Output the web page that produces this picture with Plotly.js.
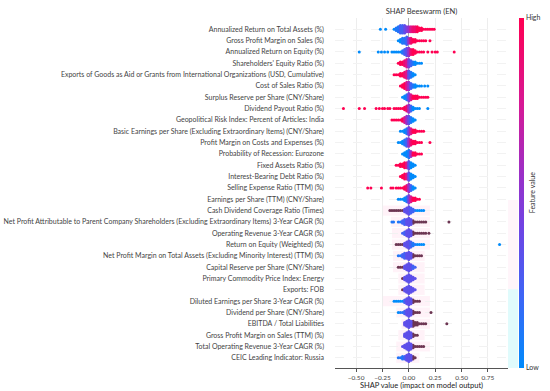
<!DOCTYPE html>
<html><head><meta charset="utf-8">
<script src="https://cdn.plot.ly/plotly-3.0.1.min.js"></script>
<style>html,body{margin:0;padding:0;background:#fff}#chart{width:550px;height:391px}</style>
</head><body><div id="chart"></div>
<script>
const features = [
"Annualized Return on Total Assets (%)",
"Gross Profit Margin on Sales (%)",
"Annualized Return on Equity (%)",
"Shareholders' Equity Ratio (%)",
"Exports of Goods as Aid or Grants from International Organizations (USD, Cumulative)",
"Cost of Sales Ratio (%)",
"Surplus Reserve per Share (CNY/Share)",
"Dividend Payout Ratio (%)",
"Geopolitical Risk Index: Percent of Articles: India",
"Basic Earnings per Share (Excluding Extraordinary Items) (CNY/Share)",
"Profit Margin on Costs and Expenses (%)",
"Probability of Recession: Eurozone",
"Fixed Assets Ratio (%)",
"Interest-Bearing Debt Ratio (%)",
"Selling Expense Ratio (TTM) (%)",
"Earnings per Share (TTM) (CNY/Share)",
"Cash Dividend Coverage Ratio (Times)",
"Net Profit Attributable to Parent Company Shareholders (Excluding Extraordinary Items) 3-Year CAGR (%)",
"Operating Revenue 3-Year CAGR (%)",
"Return on Equity (Weighted) (%)",
"Net Profit Margin on Total Assets (Excluding Minority Interest) (TTM) (%)",
"Capital Reserve per Share (CNY/Share)",
"Primary Commodity Price Index: Energy",
"Exports: FOB",
"Diluted Earnings per Share 3-Year CAGR (%)",
"Dividend per Share (CNY/Share)",
"EBITDA / Total Liabilities",
"Gross Profit Margin on Sales (TTM) (%)",
"Total Operating Revenue 3-Year CAGR (%)",
"CEIC Leading Indicator: Russia"
];

// SHAP value bins for the dense part of each swarm
const binShap = [-0.20,-0.18,-0.16,-0.14,-0.12,-0.10,-0.08,-0.06,-0.04,-0.02,0.00,0.02,0.04,0.06,0.08,0.10,0.12,0.14,0.16,0.18,0.20];

// swarm half-height (stacked dots) per bin, one row per feature
const coreHeight = [
[0,0,0,1,2,3,4,4,4,3,3,3,3,3,3,2,2,1,1,1,1],
[0,0,0,0,0,1,2,3,3,4,3,3,2,2,1,1,1,1,1,0,0],
[1,0,1,1,1,1,1,2,3,4,4,3,3,2,1,1,1,1,0,1,0],
[0,0,0,0,0,1,2,2,3,4,4,3,2,2,1,1,1,0,0,0,0],
[0,0,0,1,1,1,2,2,3,4,4,3,2,1,0,0,0,0,0,0,0],
[0,0,0,0,0,0,1,2,3,4,4,3,2,2,1,1,1,0,0,0,0],
[0,0,0,0,0,0,0,1,2,3,4,3,2,2,2,1,1,1,1,1,0],
[1,1,0,1,1,1,1,1,2,3,4,3,2,1,1,1,0,0,0,0,0],
[0,0,1,1,1,1,1,2,3,4,4,3,2,1,0,0,0,0,0,0,0],
[0,0,0,0,0,0,1,1,2,3,4,3,2,2,1,1,1,1,0,0,0],
[0,0,0,0,0,1,1,2,3,4,4,3,2,2,1,1,1,0,0,0,0],
[0,0,0,0,0,0,0,1,2,3,4,3,2,2,1,1,1,0,0,0,0],
[0,0,0,0,1,1,2,2,3,3,4,3,2,1,0,0,0,0,0,0,0],
[0,0,0,0,0,0,1,2,3,3,4,3,2,1,0,0,0,0,0,0,0],
[0,0,0,0,1,1,1,1,2,3,4,3,2,1,0,0,0,0,0,0,0],
[0,0,0,0,0,1,1,1,2,3,4,3,2,2,1,1,0,0,0,0,0],
[0,1,1,1,1,1,1,1,2,3,4,3,2,1,1,0,0,0,0,0,0],
[0,0,0,0,0,1,1,2,3,3,4,3,2,1,1,1,1,0,0,0,0],
[0,0,0,0,0,0,0,1,2,3,4,3,2,1,1,1,1,1,1,0,0],
[0,0,0,0,0,1,1,1,2,3,4,3,2,1,1,1,1,1,0,0,0],
[0,0,0,0,0,1,1,2,3,3,4,3,2,1,1,1,0,0,0,0,0],
[0,0,0,0,0,1,1,1,2,3,4,3,2,1,0,0,0,0,0,0,0],
[0,0,0,0,0,0,0,1,2,3,4,3,2,1,0,0,0,0,0,0,0],
[0,0,0,0,0,0,0,1,2,3,4,3,2,1,0,0,0,0,0,0,0],
[0,0,0,0,1,1,1,1,2,3,4,3,2,1,1,1,0,0,0,0,0],
[0,0,0,0,0,0,1,1,2,3,4,3,2,1,1,1,0,0,0,0,0],
[0,0,0,0,0,0,0,0,2,3,4,3,3,2,2,1,1,1,1,0,0],
[0,0,0,0,0,0,0,0,2,3,4,3,2,1,1,0,0,0,0,0,0],
[0,0,0,0,0,0,0,1,2,3,4,3,2,1,1,1,1,1,0,0,0],
[0,0,0,0,0,1,1,2,2,3,4,3,2,1,0,0,0,0,0,0,0]
];

// feature value per bin: 0 = low ... 9 = high, -1 = missing
const coreColor = [
[0,0,0,0,1,1,2,2,3,4,5,7,8,8,9,9,9,9,9,9,9],
[0,0,0,0,0,0,0,1,1,2,5,8,9,9,9,9,9,9,9,9,9],
[0,0,0,0,0,0,0,1,2,3,5,8,9,9,9,9,9,9,9,9,9],
[9,9,9,9,9,9,9,9,8,7,4,2,1,0,0,0,0,0,0,0,0],
[9,9,9,9,9,9,9,9,8,7,3,1,0,0,0,0,0,0,0,0,0],
[9,9,9,9,9,9,9,9,9,7,5,2,1,0,0,0,0,0,0,0,0],
[0,0,0,0,0,0,0,0,0,1,4,7,9,9,9,9,9,9,9,9,9],
[9,9,9,9,9,9,9,9,9,8,5,2,0,0,0,0,0,0,0,0,0],
[9,9,9,9,9,9,9,9,7,5,3,1,0,0,0,0,0,0,0,0,0],
[0,0,0,0,0,0,0,0,0,1,4,7,9,9,9,9,9,9,9,9,9],
[0,0,0,0,0,0,0,0,1,2,5,8,9,9,9,9,9,9,9,9,9],
[0,0,0,0,0,0,0,0,0,0,1,5,9,9,9,9,9,9,9,9,9],
[9,9,9,9,9,9,9,9,9,7,3,0,0,0,0,0,0,0,0,0,0],
[9,9,9,9,9,9,9,9,9,7,3,0,0,0,0,0,0,0,0,0,0],
[9,9,9,9,9,9,9,9,9,8,5,2,0,0,0,0,0,0,0,0,0],
[0,0,0,0,0,0,0,0,0,1,4,7,9,9,9,9,9,9,9,9,9],
[-1,-1,-1,-1,-1,-1,-1,-1,3,3,3,2,2,1,0,0,0,0,0,0,0],
[1,1,1,1,1,1,1,2,2,3,3,3,-1,-1,-1,-1,-1,-1,-1,-1,-1],
[2,2,2,2,2,2,2,2,2,3,3,3,-1,-1,-1,-1,-1,-1,-1,-1,-1],
[-1,-1,-1,-1,-1,-1,-1,-1,3,3,3,2,1,1,0,0,0,0,0,0,0],
[1,1,1,1,1,1,1,2,2,3,3,3,-1,-1,-1,-1,-1,-1,-1,-1,-1],
[-1,-1,-1,-1,-1,-1,-1,-1,3,3,3,3,2,2,2,2,2,2,2,2,2],
[-1,-1,-1,-1,-1,-1,-1,-1,3,3,3,3,3,3,3,3,3,3,3,3,3],
[-1,-1,-1,-1,-1,-1,-1,-1,3,3,3,3,3,3,3,3,3,3,3,3,3],
[0,0,0,0,0,0,0,0,2,3,3,3,-1,-1,-1,-1,-1,-1,-1,-1,-1],
[1,1,1,1,1,1,1,1,2,3,3,3,-1,-1,-1,-1,-1,-1,-1,-1,-1],
[3,3,3,3,3,3,3,3,3,3,3,3,-1,-1,-1,-1,-1,-1,-1,-1,-1],
[3,3,3,3,3,3,3,3,3,3,3,3,-1,-1,-1,-1,-1,-1,-1,-1,-1],
[3,3,3,3,3,3,3,3,3,3,3,3,-1,-1,-1,-1,-1,-1,-1,-1,-1],
[0,0,0,0,0,1,1,1,2,3,3,3,-1,-1,-1,-1,-1,-1,-1,-1,-1]
];

// isolated points outside the dense part
const outlierShap = [
[-0.27,-0.22,0.22,0.24],
[0.20],
[-0.47,-0.29,-0.26,-0.23,0.22,0.25,0.27,0.43],
[],
[],
[0.15,0.18],
[],
[-0.62,-0.47,-0.42,-0.31,-0.28,-0.25,-0.23,0.18],
[],
[],
[0.20],
[],
[],
[],
[-0.39,-0.36,-0.26,-0.17,-0.15],
[],
[0.10,0.12,0.14],
[-0.16,-0.145,0.14,0.16,0.38],
[0.19],
[-0.12,0.86],
[0.12],
[],
[],
[],
[-0.14],
[-0.10,0.21],
[0.36],
[],
[],
[]
];
const outlierColor = [
[0,0,9,9],
[9],
[0,0,0,0,9,9,9,9],
[],
[],
[0,0],
[],
[9,9,9,9,9,9,9,0],
[],
[],
[9],
[],
[],
[],
[9,9,9,9,9],
[],
[0,0,0],
[1,1,-1,-1,-1],
[-1],
[-1,0],
[-1],
[],
[],
[],
[0],
[0,-1],
[-1],
[],
[],
[]
];

// faint background bands behind the lower rows (SHAP range)
const bandRows = [16,17,18,19,20,21,22,23,24,25,26,27,28,29];
const bandLo = [-0.25,-0.17,-0.16,-0.16,-0.15,-0.15,-0.10,-0.10,-0.25,-0.12,-0.07,-0.10,-0.12,-0.12];
const bandHi = [0.20,0.20,0.20,0.20,0.15,0.15,0.15,0.15,0.20,0.20,0.20,0.15,0.20,0.10];

const xTickVals = [-0.50,-0.25,0.00,0.25,0.50,0.75];

const colorScale = [
  [0.0,'#008bfb'],[0.2,'#3c66f6'],[0.4,'#6f44e4'],[0.55,'#9a30c8'],
  [0.75,'#d61996'],[1.0,'#ff0052']
];
const missingColor = '#6c3552';

const dy = 0.11;
const cx = [], cyv = [], cc = [];
const mx = [], my = [];
features.forEach((f, r) => {
  coreHeight[r].forEach((h, i) => {
    for (let k = -(h - 1); k <= h - 1; k++) {
      if (coreColor[r][i] < 0) { mx.push(binShap[i]); my.push(r + k * dy); }
      else { cx.push(binShap[i]); cyv.push(r + k * dy); cc.push(coreColor[r][i]); }
    }
  });
  outlierShap[r].forEach((v, j) => {
    if (outlierColor[r][j] < 0) { mx.push(v); my.push(r); }
    else { cx.push(v); cyv.push(r); cc.push(outlierColor[r][j]); }
  });
});

const traces = [
  {type:'scatter', mode:'markers', x: mx, y: my, hoverinfo:'skip', showlegend:false,
   marker:{size:3, color: missingColor, line:{width:0}}},
  {type:'scatter', mode:'markers', x: cx, y: cyv, hoverinfo:'skip', showlegend:false,
   marker:{size:3, color: cc, cmin:0, cmax:9, colorscale: colorScale, line:{width:0},
     showscale:true,
     colorbar:{x:1.062, xanchor:'left', xref:'paper', y:0.5, yanchor:'middle', len:1, lenmode:'fraction',
       thickness:5, outlinewidth:0, tickvals:[0,9], ticktext:['Low','High'], ticks:'',
       tickfont:{size:7, color:'#333', family:'Lato'}, xpad:0, ypad:0}}}
];

const shapes = bandRows.map((r, j) => ({
  type:'rect', xref:'x', yref:'y', x0: bandLo[j], x1: bandHi[j], y0: r - 0.45, y1: r + 0.45,
  fillcolor:'rgba(255,0,120,0.05)', line:{width:0}, layer:'below'
}));
shapes.push({type:'rect', xref:'paper', yref:'paper', x0:1.0, x1:1.058, y0:0.225, y1:0.48,
  fillcolor:'rgba(255,0,120,0.04)', line:{width:0}, layer:'below'});
shapes.push({type:'rect', xref:'paper', yref:'paper', x0:1.0, x1:1.058, y0:0.0, y1:0.225,
  fillcolor:'rgba(0,220,230,0.12)', line:{width:0}, layer:'below'});

const layout = {
  width:550, height:391,
  margin:{l:335, r:38, t:18, b:23},
  paper_bgcolor:'#fff', plot_bgcolor:'#fff',
  font:{family:'Lato', size:7, color:'#333'},
  title:{text:'SHAP Beeswarm (EN)', x:0.5, xref:'paper', y:1-11/391, yref:'container', yanchor:'middle',
    font:{size:7.5, color:'#333'}},
  xaxis:{range:[-0.70,0.94], tickvals:xTickVals, tickformat:'.2f', ticks:'outside', ticklen:3,
    tickcolor:'#555', showline:true, linecolor:'#555', linewidth:1, showgrid:true, gridcolor:'#ededed',
    zeroline:true, zerolinecolor:'#aaaaaa', zerolinewidth:1, tickfont:{size:6.5, color:'#444'},
    title:{text:'SHAP value (impact on model output)', font:{size:7.5, color:'#222'}, standoff:2},
    fixedrange:true},
  yaxis:{range:[29.9,-1.0], tickvals: features.map((f,i)=>i), ticktext: features, ticks:'',
    showgrid:true, gridcolor:'#f2f2f2', griddash:'dash', zeroline:false, showline:false,
    tickfont:{size:7, color:'#444'}, ticklabelstandoff:10, fixedrange:true},
  shapes: shapes,
  annotations:[{text:'Feature value', xref:'paper', yref:'paper', x:1.175, y:0.5, textangle:-90,
    showarrow:false, font:{size:7, color:'#333'}}]
};

Plotly.newPlot('chart', traces, layout, {staticPlot:true, displayModeBar:false});
</script>
</body></html>
